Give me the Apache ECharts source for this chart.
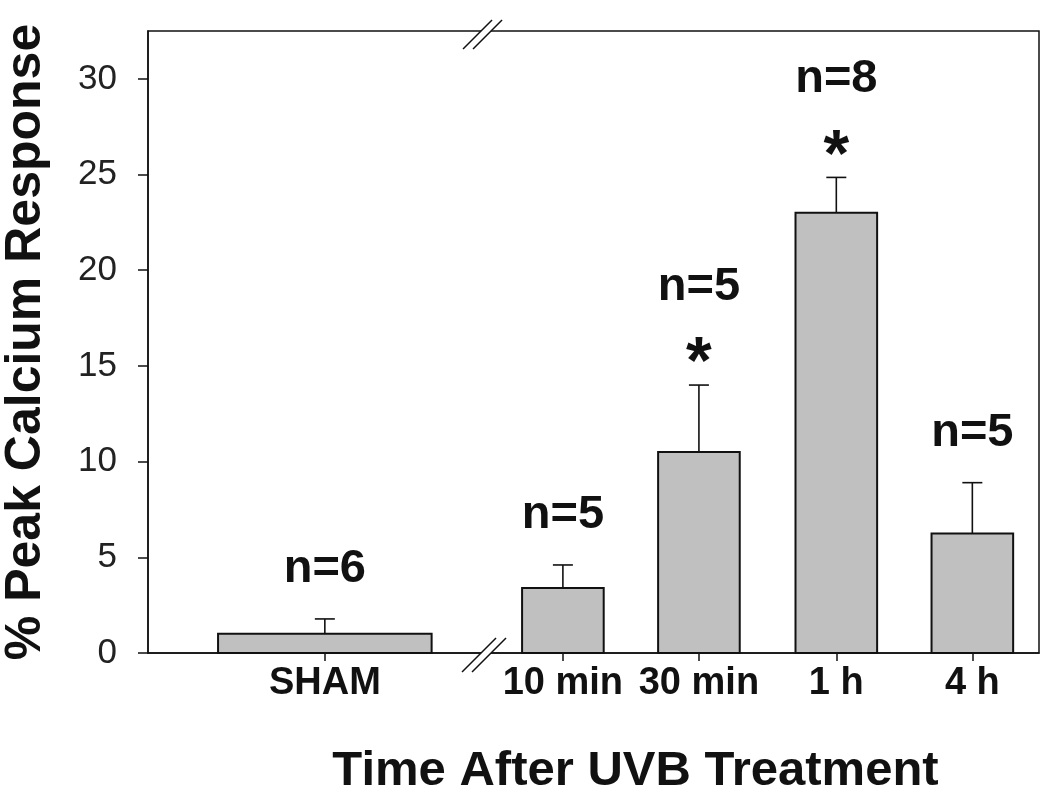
<!DOCTYPE html>
<html>
<head>
<meta charset="utf-8">
<script src="https://cdn.jsdelivr.net/npm/echarts@6.0.0/dist/echarts.min.js"></script>
<style>
html,body{margin:0;padding:0;background:#fff;}
#chart{width:1050px;height:812px;}
</style>
</head>
<body>
<div id="chart"></div>
<script>
// ---- data ----
const categories = ['SHAM', '10 min', '30 min', '1 h', '4 h'];
const meanValues = [1.0, 3.4, 10.5, 23.0, 6.25];
const semValues = [0.78, 1.2, 3.5, 1.85, 2.65];
const nLabels = ['n=6', 'n=5', 'n=5', 'n=8', 'n=5'];
const significant = [false, false, true, true, false];
const categoryPositions = [1.3, 3.05, 4.05, 5.06, 6.06];
const yTickValues = [0, 5, 10, 15, 20, 25, 30];
const axisBreakPosition = [2.485];

// ---- layout / style ----
const FONT = '"Liberation Sans", Arial, Helvetica, sans-serif';
const BAR_WIDTH_UNITS = [1.57, 0.6, 0.6, 0.6, 0.6];
const INK = '#111';

const chart = echarts.init(document.getElementById('chart'), null, {renderer: 'canvas'});

function nearestCategory(v) {
  let best = 0, bd = Infinity;
  categoryPositions.forEach((p, i) => { const d = Math.abs(p - v); if (d < bd) { bd = d; best = i; } });
  return categories[best];
}

function renderBar(params, api) {
  const i = params.dataIndex;
  const x = api.value(0), y = api.value(1), e = api.value(2);
  const w = api.size([BAR_WIDTH_UNITS[i], 0])[0];
  const base = api.coord([x, 0]);
  const top = api.coord([x, y]);
  const errTop = api.coord([x, y + e]);
  const children = [
    {type: 'line', shape: {x1: top[0], y1: top[1], x2: errTop[0], y2: errTop[1]},
     style: {stroke: INK, lineWidth: 1.6}},
    {type: 'line', shape: {x1: errTop[0] - 10, y1: errTop[1], x2: errTop[0] + 10, y2: errTop[1]},
     style: {stroke: INK, lineWidth: 1.6}},
    {type: 'rect', shape: {x: base[0] - w / 2, y: top[1], width: w, height: base[1] - top[1]},
     style: {fill: '#c0c0c0', stroke: INK, lineWidth: 2}}
  ];
  const nOffset = significant[i] ? 98 : 50;
  children.push({type: 'text', style: {text: nLabels[i], x: errTop[0], y: errTop[1] - nOffset,
    align: 'center', verticalAlign: 'middle', fontSize: 47, fontWeight: 'bold', fontFamily: FONT, fill: INK}});
  if (significant[i]) {
    children.push({type: 'text', style: {text: '*', x: errTop[0], y: errTop[1] - 20,
      align: 'center', verticalAlign: 'middle', fontSize: 66, fontWeight: 'bold', fontFamily: FONT, fill: INK}});
  }
  return {type: 'group', children: children};
}

function renderBreak(params, api) {
  const cs = params.coordSys;
  const c = api.coord([api.value(0), 0])[0];
  const yb = cs.y + cs.height;
  const yt = cs.y;
  const slash = (cx, cy, down, up) => ({type: 'line',
    shape: {x1: cx - down, y1: cy + down, x2: cx + up, y2: cy - up},
    style: {stroke: INK, lineWidth: 1.5}});
  return {type: 'group', children: [
    {type: 'rect', shape: {x: c - 5, y: yb - 1.5, width: 10, height: 3}, style: {fill: '#fff'}},
    {type: 'rect', shape: {x: c - 5, y: yt - 1.5, width: 10, height: 3}, style: {fill: '#fff'}},
    slash(c - 5, yb, 19, 15), slash(c + 5, yb, 19, 15),
    slash(c - 5, yt, 18, 11), slash(c + 5, yt, 18, 11)
  ]};
}

const option = {
  backgroundColor: '#fff',
  animation: false,
  grid: {left: 148, right: 11, top: 31, bottom: 159, outerBoundsMode: 'none', containLabel: false,
    show: true, borderColor: INK, borderWidth: 1.5, backgroundColor: 'transparent'},
  xAxis: {
    type: 'value', min: 0, max: 6.55,
    splitLine: {show: false},
    axisLine: {show: true, onZero: false, lineStyle: {color: INK, width: 1.5}},
    axisTick: {show: true, customValues: categoryPositions, length: 8, lineStyle: {color: INK, width: 1.5}},
    axisLabel: {show: true, customValues: categoryPositions, formatter: nearestCategory,
      margin: 12, fontSize: 38, fontWeight: 'bold', fontFamily: FONT, color: INK},
    name: 'Time After UVB Treatment', nameLocation: 'middle', nameGap: 94,
    nameTextStyle: {fontSize: 49, fontWeight: 'bold', fontFamily: FONT, color: INK, padding: [0, 0, 0, 84]}
  },
  yAxis: {
    type: 'value', min: 0, max: 32.5, interval: 5,
    splitLine: {show: false},
    axisLine: {show: true, lineStyle: {color: INK, width: 1.5}},
    axisTick: {show: true, customValues: yTickValues, length: 10, lineStyle: {color: INK, width: 1.5}},
    axisLabel: {show: true, customValues: yTickValues, margin: 31, fontSize: 35, fontFamily: FONT, color: '#222'},
    name: '% Peak Calcium Response', nameLocation: 'middle', nameRotate: 90, nameGap: 97,
    nameTextStyle: {fontSize: 50, fontWeight: 'bold', fontFamily: FONT, color: INK}
  },
  series: [
    {type: 'custom', renderItem: renderBar, clip: false,
     data: meanValues.map((m, i) => [categoryPositions[i], m, semValues[i]]),
     encode: {x: 0, y: 1}, z: 3},
    {type: 'custom', renderItem: renderBreak, clip: false,
     data: axisBreakPosition.map(v => [v]), encode: {x: 0}, z: 5}
  ]
};
chart.setOption(option);
</script>
</body>
</html>
